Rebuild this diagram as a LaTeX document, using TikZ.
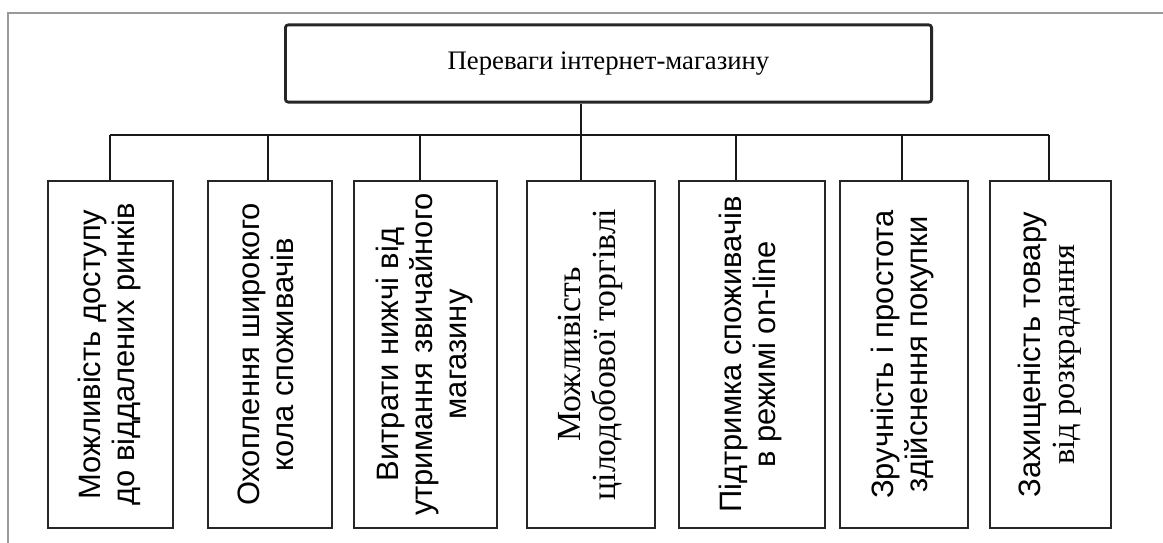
\documentclass[tikz,border=0pt]{standalone}
\usepackage{fontspec}
\setmainfont{Liberation Serif}
\setsansfont{Liberation Sans}
\usepackage{tikz}
\usetikzlibrary{positioning}

\newcommand{\vlab}[1]{\rotatebox{90}{\begin{tabular}{@{}c@{}}#1\end{tabular}}}

\begin{document}
\begin{tikzpicture}[x=0.025cm, y=-0.025cm,
  frame/.style={draw=gray!80, line width=1.1pt},
  head/.style={draw=black!85, line width=2pt, rounded corners=2pt, minimum width=16.15cm, minimum height=1.93cm, font=\fontsize{19}{23}\selectfont},
  item/.style={draw=black!85, line width=1.3pt, minimum height=8.675cm, inner sep=0pt, font=\sffamily\fontsize{22}{24}\selectfont},
  seriftext/.style={font=\rmfamily\fontsize{24}{25}\selectfont},
  bus/.style={draw=black!90, line width=1.8pt},
  drop/.style={draw=black!90, line width=1.2pt}
]
\useasboundingbox[fill=white] (0,0) rectangle (1163,543);

%--- outer frame ---
\draw[frame] (8,543) -- (8,13) -- (1163,13);

%--- main box ---
\node[head] (main) at (608.5,63.5) {Переваги інтернет-магазину};

%--- items ---
\node[item, minimum width=3.13cm] (b1) at (110.5,354.5) {\vlab{Можливість доступу\\до віддалених ринків}};
\node[item, minimum width=3.10cm] (b2) at (270,354.5) {\vlab{Охоплення широкого\\кола споживачів}};
\node[item, minimum width=3.58cm] (b3) at (425.5,354.5) {\vlab{Витрати нижчі від\\утримання звичайного\\магазину}};
\node[item, seriftext, minimum width=3.20cm] (b4) at (591,354.5) {\vlab{Можливість\\цілодобової торгівлі}};
\node[item, minimum width=3.65cm] (b5) at (752,354.5) {\vlab{Підтримка споживачів\\в режимі on-line}};
\node[item, minimum width=3.20cm] (b6) at (904,354.5) {\vlab{Зручність і простота\\здійснення покупки}};
\node[item, minimum width=3.03cm] (b7) at (1050.5,354.5) {\vlab{Захищеність товару\\\rmfamily\fontsize{23}{24}\selectfont від розкрадання}};

%--- bus ---
\coordinate (j1) at (110,135);
\coordinate (j2) at (268,135);
\coordinate (j3) at (420,135);
\coordinate (j4) at (581,135);
\coordinate (j5) at (736,135);
\coordinate (j6) at (902,135);
\coordinate (j7) at (1049,135);
\draw[bus] (j1) -- (j7);
\draw[drop] (main.south -| j4) -- (j4);
\foreach \k in {1,...,7}
  \draw[drop] (j\k) -- (b\k.north -| j\k);
\end{tikzpicture}
\end{document}
